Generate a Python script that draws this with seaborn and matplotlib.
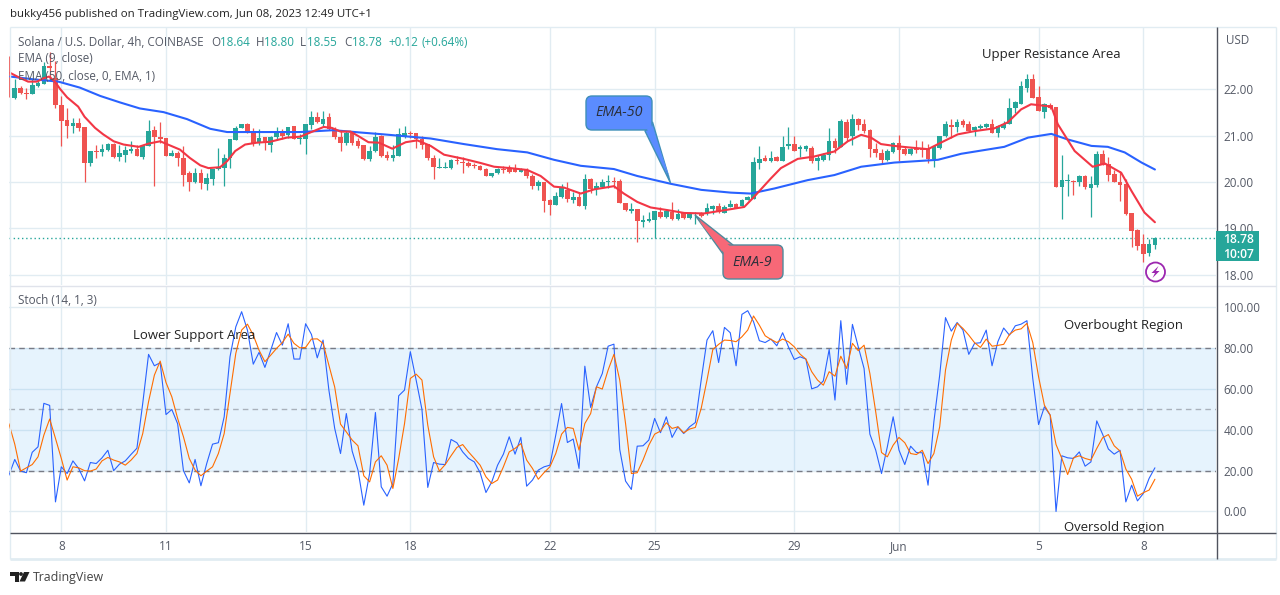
import matplotlib
matplotlib.use('Agg')
import matplotlib.pyplot as plt
import numpy as np
import pandas as pd
import seaborn as sns
from matplotlib.patches import FancyBboxPatch, Polygon, Circle, Rectangle

# candles, one every 4h, index 0 = May 8 00:00
first_candle = -9
opens = [22.25,21.81,22.03,21.93,21.90,22.08,22.12,22.50,22.24,21.66,
         21.33,21.21,21.28,21.19,20.40,20.67,20.64,20.69,20.82,20.54,
         20.59,20.66,20.72,20.55,20.77,21.12,20.98,20.96,20.56,20.62,
         20.51,20.19,20.00,20.19,19.96,20.07,20.28,20.30,20.51,20.90,
         21.16,21.25,21.10,20.85,20.98,20.81,20.98,21.11,21.01,21.21,
         20.93,20.93,21.23,21.40,21.25,21.40,21.14,20.98,20.85,21.07,
         20.88,20.80,20.49,20.66,20.99,20.58,20.51,20.56,20.99,21.07,
         21.05,20.94,20.83,20.51,20.31,20.31,20.30,20.48,20.43,20.41,
         20.36,20.35,20.28,20.13,20.19,20.29,20.30,20.30,20.22,20.26,
         20.13,19.91,19.99,19.61,19.50,19.68,19.83,19.62,19.68,19.49,
         20.07,19.85,19.90,19.99,20.03,20.02,19.54,19.37,19.41,19.13,
         19.16,19.17,19.35,19.25,19.36,19.20,19.32,19.22,19.30,19.33,
         19.33,19.41,19.48,19.33,19.45,19.52,19.48,19.61,19.63,20.42,
         20.51,20.46,20.54,20.46,20.77,20.83,20.72,20.72,20.73,20.46,
         20.48,20.59,20.88,20.75,21.30,20.99,21.37,21.25,21.12,20.71,
         20.62,20.47,20.65,20.84,20.71,20.60,20.74,20.72,20.71,20.49,
         20.74,21.00,21.24,21.18,21.31,21.26,21.12,21.16,21.18,21.26,
         21.05,21.16,21.25,21.61,21.68,22.03,22.22,21.83,21.52,21.66,
         21.62,19.89,20.02,20.03,20.00,20.13,19.86,19.93,20.60,20.38,
         20.17,20.01,19.95,19.34,18.97,18.65,18.47,18.64]
highs = [22.73,22.22,22.08,22.04,22.22,22.20,22.59,22.80,22.62,21.86,
         21.61,21.39,21.39,21.19,20.67,20.81,20.83,20.84,20.84,20.81,
         20.78,20.88,20.81,20.81,21.33,21.21,21.30,20.96,20.70,20.67,
         20.78,20.23,20.31,20.29,20.20,20.28,20.74,20.60,20.93,21.21,
         21.26,21.28,21.16,21.14,20.98,20.99,21.19,21.14,21.18,21.21,
         21.03,21.25,21.54,21.52,21.54,21.49,21.18,21.10,21.10,21.09,
         20.96,20.81,20.78,21.09,21.01,20.67,20.81,21.17,21.21,21.10,
         21.07,20.99,20.83,20.59,20.51,20.44,20.50,20.57,20.55,20.46,
         20.41,20.37,20.30,20.20,20.30,20.35,20.37,20.39,20.31,20.30,
         20.17,20.04,19.99,19.64,19.79,19.95,20.01,19.79,19.79,20.17,
         20.09,20.01,20.07,20.15,20.10,20.06,19.54,19.54,19.41,19.28,
         19.36,19.37,19.46,19.41,19.56,19.41,19.36,19.35,19.36,19.36,
         19.54,19.50,19.54,19.50,19.62,19.55,19.64,19.70,20.55,20.78,
         20.59,20.67,20.56,20.99,21.19,20.99,20.80,20.80,20.77,20.59,
         20.62,21.17,20.96,21.36,21.36,21.48,21.38,21.37,21.14,20.85,
         20.71,20.71,20.86,21.01,20.78,20.74,20.91,20.89,20.82,20.78,
         21.00,21.32,21.36,21.37,21.37,21.32,21.21,21.25,21.28,21.37,
         21.23,21.32,21.81,21.75,22.19,22.33,22.33,22.08,21.70,21.70,
         21.62,20.58,20.17,20.04,20.15,20.15,20.13,20.66,20.69,20.53,
         20.27,20.24,20.06,19.34,18.99,18.88,18.77,18.80]
lows = [21.83,21.79,21.90,21.79,21.90,22.05,22.12,22.22,21.61,20.78,
        20.96,21.05,21.10,19.99,20.34,20.52,20.56,20.67,20.52,20.45,
        20.44,20.62,20.56,20.50,20.77,19.91,20.85,20.56,20.56,20.34,
        19.92,19.80,19.98,19.85,19.82,19.94,20.26,19.92,20.31,20.90,
        21.16,21.07,20.78,20.81,20.70,20.65,20.92,20.92,20.96,20.92,
        20.83,20.60,21.14,21.28,21.21,21.12,20.94,20.67,20.81,20.81,
        20.74,20.48,20.45,20.65,20.54,20.47,20.45,20.56,20.96,20.96,
        20.74,20.72,20.48,20.07,20.30,20.30,20.29,20.39,20.20,20.32,
        20.30,20.25,20.12,20.10,20.17,20.20,20.20,20.22,20.22,20.08,
        19.84,19.83,19.36,19.28,19.50,19.66,19.57,19.55,19.49,19.41,
        19.77,19.72,19.86,19.88,19.88,19.54,19.38,19.33,18.70,19.03,
        19.14,18.78,19.23,19.23,19.17,19.17,19.20,19.19,19.09,19.25,
        19.28,19.30,19.33,19.33,19.45,19.43,19.48,19.60,19.63,20.28,
        20.46,20.44,20.46,20.46,20.71,20.67,20.55,20.66,20.42,20.26,
        20.45,20.48,20.62,20.75,20.88,20.80,21.13,21.05,20.53,20.53,
        20.38,20.45,20.63,20.45,20.58,20.58,20.63,20.53,20.42,20.32,
        20.72,20.98,20.96,21.08,21.18,21.10,21.00,21.14,21.16,21.05,
        20.97,21.14,21.25,21.50,21.68,21.94,21.81,21.54,21.39,21.57,
        19.89,19.21,19.70,19.72,19.91,19.84,19.24,19.90,20.37,20.03,
        20.00,19.59,19.28,18.59,18.53,18.27,18.40,18.55]
closes = [22.15,22.04,21.92,21.91,22.09,22.15,22.50,22.46,21.66,21.31,
          21.22,21.28,21.16,20.40,20.67,20.65,20.72,20.83,20.54,20.63,
          20.69,20.72,20.56,20.78,21.10,20.98,20.92,20.56,20.62,20.51,
          20.16,20.00,20.19,19.97,20.09,20.28,20.30,20.51,20.93,21.16,
          21.25,21.07,20.85,20.96,20.85,20.98,21.10,20.99,21.18,20.92,
          20.94,21.25,21.40,21.30,21.37,21.14,20.97,20.85,21.07,20.85,
          20.78,20.49,20.67,20.98,20.56,20.51,20.59,21.03,21.07,21.03,
          20.93,20.81,20.52,20.32,20.32,20.33,20.48,20.46,20.40,20.35,
          20.34,20.26,20.13,20.19,20.28,20.27,20.22,20.22,20.29,20.12,
          19.91,19.99,19.59,19.50,19.70,19.88,19.64,19.68,19.49,20.07,
          19.85,19.91,19.99,20.03,20.00,19.54,19.39,19.41,19.16,19.17,
          19.21,19.37,19.25,19.38,19.20,19.30,19.22,19.30,19.33,19.26,
          19.43,19.48,19.35,19.46,19.52,19.43,19.62,19.68,20.43,20.49,
          20.46,20.51,20.46,20.75,20.83,20.67,20.75,20.77,20.46,20.51,
          20.59,20.88,20.73,21.31,20.95,21.37,21.24,21.10,20.71,20.62,
          20.47,20.66,20.84,20.69,20.60,20.72,20.69,20.69,20.49,20.78,
          21.00,21.26,21.19,21.29,21.24,21.10,21.19,21.21,21.26,21.07,
          21.20,21.26,21.61,21.73,22.08,22.22,21.81,21.54,21.68,21.59,
          19.89,20.04,20.03,20.00,20.12,19.89,19.95,20.60,20.37,20.15,
          20.00,19.93,19.30,18.95,18.61,18.45,18.67,18.78]

# moving averages, read at the bends of each line
ema9_pos = [-8.8,-7.1,-5.7,-4.2,-3.1,-2.1,-1.1,-0.2,1,2.9,4,5.8,7.2,9,10.7,13.3,15,17,18.7,20.4,
            22.1,23.9,25.3,27.3,28.5,29.9,31.6,33.6,35.9,38.8,41.1,42.8,45.1,46.5,48,49.7,51.1,52.8,54.6,56.9,
            59.2,61.2,63.5,65.8,69.2,72.1,74.4,77.2,80.1,82.4,84.7,86.4,89.3,91.6,95,96.7,99,101.3,104.8,107.1,
            110.5,114,117.4,119.1,122,123.7,126.6,129.4,132.9,135.2,137.5,139.2,140.9,143.2,145.5,149,151.2,154.1,157,160.4,
            162.7,165,166.7,170.2,171.3,174.2,177.3,179.4,182.2,184,186.2,188]
ema9 = [22.36,22.25,22.17,22.17,22.24,22.28,22.17,22.01,21.83,21.63,21.41,21.17,21.03,20.88,20.81,20.76,20.83,20.88,20.79,20.70,
        20.52,20.36,20.30,20.32,20.45,20.67,20.81,20.85,20.87,20.96,20.98,21.07,21.19,21.17,21.09,21.09,20.99,20.86,20.85,20.72,
        20.86,20.90,20.78,20.59,20.50,20.41,20.33,20.30,20.26,20.13,19.90,19.88,19.75,19.84,19.91,19.75,19.57,19.45,19.38,19.33,
        19.32,19.39,19.46,19.68,20.08,20.30,20.50,20.55,20.66,20.88,21.02,20.96,20.82,20.78,20.75,20.71,20.85,21.03,21.10,21.16,
        21.29,21.57,21.68,21.63,21.25,20.67,20.33,20.40,20.20,19.80,19.34,19.13]
ema50_pos = [-8.8,-4.8,-0.5,3.2,6.7,10.1,13.5,17.6,21.6,25.6,28.5,35.3,41.1,46.8,51.4,55.4,63.5,
             69.2,74.9,80.1,84.7,89.3,95,99,104.8,110,115.1,118.5,122.6,128.3,132.9,137.5,
             143.2,150.7,154.7,162.1,166.2,170.2,173,177.1,179.9,182.8,185.7,188]
ema50 = [22.28,22.22,22.17,22.04,21.86,21.72,21.59,21.51,21.36,21.15,21.08,21.08,21.08,21.12,21.07,21.03,20.94,
         20.82,20.71,20.64,20.48,20.35,20.28,20.13,19.96,19.83,19.77,19.75,19.86,20.04,20.15,20.33,
         20.42,20.48,20.61,20.76,20.96,21.04,20.92,20.78,20.76,20.64,20.42,20.27]

# stochastic, one value per candle
stoch_k = [17.8,25.5,19.8,19,29,31.7,53,52,4.7,21.9,
           18.6,24.8,21,15,24,23.5,26.3,30,20,23.2,
           24.8,28,31,53,77,71.4,72.9,47.5,50,43,
           20,14,25.5,12.6,23.5,33,33.7,46.4,75.8,90.5,
           97.9,88.9,72.2,78,70.6,79,87.7,81.5,92,74.7,
           74.7,92,86.8,75.3,84,59.5,40.7,28.4,48,29.6,
           20.3,3.1,18.6,48.5,12.1,7.5,13.7,56.7,59.5,78.3,
           64.4,50,11.8,24,23.2,23,35.3,33.7,29.2,26,
           24.3,19,9.3,14.5,22.7,28.1,36.6,28.1,36.3,12.4,
           15.4,20.3,21.9,22.7,37.4,52.9,33.8,35.5,21.1,71.2,
           51,61.1,67.6,81,82,30.4,14.9,10.8,32,32.2,
           35,45.6,38.6,46.4,36.3,41.5,38.2,41.5,43.6,64.4,
           84,88.6,73,90.2,87.6,71.4,96.6,98.4,93,83.7,
           82.8,84.5,81.2,87.6,80.7,74.5,75.8,74.7,60.1,61.1,
           64,79.4,54.6,93.5,62.3,91.7,80.7,70.1,37.9,30.1,
           18.6,31.7,46.4,30.1,23,32,28.9,28.8,12.9,44,
           66.8,95,88.4,92.6,88.9,77,82.4,82.7,88.9,71.4,
           83.2,89.9,86.4,91,91.8,93.5,65.2,42.6,51.3,47.2,
           0,27.3,26.3,26,29.2,22.2,24.3,44.4,37.9,30.6,
           28.1,30,4.7,12.9,5.2,8.8,16.2,21.4]
stoch_d = [43,33,19.8,21.4,23,26.8,37.4,45.3,35.8,26,
           15.4,21.9,21.4,20,19.8,20.8,24.8,26.5,25.2,24.3,
           22.7,25.2,28.4,38.2,53.8,66.8,73.7,63.2,56.2,45.6,
           36.6,26,20.3,17.5,19.8,21.9,28.4,38.2,57.8,77.5,
           88.9,91.8,86.4,79,73.4,76.6,79.9,82.8,86.9,82.4,
           80.2,80.4,84.5,84.6,82.4,71.7,61,42.8,39,35,
           32.2,17.5,14.5,24.3,27.3,22.7,11.3,26,43,65.2,
           67.3,64.4,42.3,26.8,19.8,23,27.3,31.4,32.8,29.2,
           26,22.7,17,13.7,15.4,21.9,29.2,30.9,33.3,25.2,
           21.1,15.8,19.1,21.9,28.4,37.9,41.2,40.7,30.1,43.1,
           48,61.1,60,69.3,77,64.4,43.1,18.6,19,25.2,
           32.5,37.9,39.4,43.5,40.7,41.5,38.6,40.4,41.2,50.5,
           64.4,79.4,81.9,84,83.8,83.2,85.6,88.9,95.8,91.3,
           86.1,84.3,82.8,84.5,83.2,80.7,77.1,74.7,68.5,64.4,
           61.9,68.5,66.3,76.1,70.1,82.4,78.8,81.5,67.6,48.9,
           28.9,26.8,32.5,36.3,33.7,28.4,27.9,30,23.5,28.4,
           41.5,69.3,84,92.2,89.7,86.4,82.7,80.4,84.5,81,
           81.4,81.9,86.8,88.9,89.5,92.2,82.8,66,52.1,47.2,
           32.8,26,18.1,26.3,27.3,26,25.2,30.9,36.1,37.7,
           32.2,29.6,20.8,15.8,7.5,9.2,10.5,15.8]

x_ticks = [0, 18, 42, 60, 84, 102, 126, 144, 168, 186]
x_labels = ['8', '11', '15', '18', '22', '25', '29', 'Jun', '5', '8']
price_ticks = [18, 19, 20, 21, 22]
stoch_ticks = [0, 20, 40, 60, 80, 100]
last_price = 18.78

GREEN = '#26a69a'
RED = '#ef5350'
GRID = '#e1ecf2'
TXT = '#555a66'
DARK = '#222222'

sns.set_theme(style='white')
plt.rcParams['font.family'] = ['Open Sans', 'DejaVu Sans']

W, H = 1280, 595
fig = plt.figure(figsize=(W / 100, H / 100), dpi=100, facecolor='white')


def px_axes(left, top, right, bottom):
    return fig.add_axes([left / W, 1 - bottom / H, (right - left) / W, (bottom - top) / H])


ax = px_axes(9, 27, 1216, 285)
ax2 = px_axes(9, 286, 1216, 532)

df = pd.DataFrame({'o': opens, 'h': highs, 'l': lows, 'c': closes, 'k': stoch_k, 'd': stoch_d})
df['i'] = np.arange(len(df)) + first_candle
df['col'] = np.where(df.c >= df.o, GREEN, RED)

xlim = (-8.99, 198.5)
for a in (ax, ax2):
    a.set_xlim(xlim)
    a.set_xticks(x_ticks)
    a.grid(True, color=GRID, lw=1)
    a.set_axisbelow(True)
    a.yaxis.tick_right()
    a.tick_params(length=0, labelsize=8.5, labelcolor=TXT, pad=5.5)
    for s in a.spines.values():
        s.set_visible(False)
ax.set_ylim(17.773, 23.351)
ax.set_yticks(price_ticks)
ax.set_yticklabels([f'{v:.2f}' for v in price_ticks])
ax.tick_params(labelbottom=False)
ax2.set_ylim(-10.05, 110.5)
ax2.set_yticks(stoch_ticks)
ax2.set_yticklabels([f'{v:.2f}' for v in stoch_ticks])
ax2.set_xticklabels(x_labels)
ax2.tick_params(axis='x', pad=6)

# candles
ax.axhline(last_price, color=GREEN, lw=1, ls=(0, (1, 2)), zorder=1)
ax.vlines(df.i, df.l, df.h, colors=df.col, lw=0.9, zorder=2)
ax.bar(df.i, (df.c - df.o).abs().clip(lower=0.02), bottom=df[['o', 'c']].min(axis=1),
       width=0.8, color=df.col, lw=0, zorder=3)
sns.lineplot(x=ema50_pos, y=ema50, ax=ax, color='#2962ff', lw=1.5, estimator=None, sort=False, legend=False, zorder=4)
sns.lineplot(x=ema9_pos, y=ema9, ax=ax, color='#f23645', lw=1.5, estimator=None, sort=False, legend=False, zorder=5)

# stochastic pane
ax2.axhspan(20, 80, color='#2196f3', alpha=0.11, lw=0, zorder=1)
ax2.axhline(80, color='#787b86', lw=1, ls=(0, (4, 3)), zorder=2)
ax2.axhline(50, color='#787b86', lw=1, ls=(0, (4, 3)), alpha=0.55, zorder=2)
ax2.axhline(20, color='#787b86', lw=1, ls=(0, (4, 3)), zorder=2)
sns.lineplot(data=df, x='i', y='k', ax=ax2, color='#2962ff', lw=0.8, estimator=None, legend=False, zorder=3)
sns.lineplot(data=df, x='i', y='d', ax=ax2, color='#ff6d00', lw=0.8, estimator=None, legend=False, zorder=4)
for a in (ax, ax2):
    a.set_xlabel('')
    a.set_ylabel('')

# overlay in pixel units for frame, notes and callouts
ov = fig.add_axes([0, 0, 1, 1], zorder=10)
ov.set_xlim(0, W)
ov.set_ylim(H, 0)
ov.axis('off')
ov.patch.set_alpha(0)


def line(xs, ys, color, lw=1.0, z=6):
    ov.plot(xs, ys, color=color, lw=lw, solid_capstyle='butt', zorder=z)


def label(x, y, s, color=TXT, size=8.4, **kw):
    ov.text(x, y, s, color=color, fontsize=size, va='center', ha=kw.pop('ha', 'left'), **kw)


line([10, 1276], [27, 27], GRID)
line([10, 10], [27, 559], GRID)
line([1276, 1276], [27, 559], GRID)
line([10, 1276], [285.5, 285.5], '#e0e3eb')
line([10, 1276], [559, 559], GRID, lw=2)

label(10, 15, 'bukky456 published on TradingView.com, Jun 08, 2023 12:49 UTC+1', DARK, 8.28)
label(18, 42, 'Solana / U.S. Dollar, 4h, COINBASE')
for x, s, c in [(211, 'O', TXT), (220, '18.64', GREEN), (256, 'H', TXT), (264, '18.80', GREEN),
                (300, 'L', TXT), (307, '18.55', GREEN), (344, 'C', TXT), (352, '18.78', GREEN),
                (388, '+0.12', GREEN), (422, '(+0.64%)', GREEN)]:
    label(x, 42, s, c)
label(18, 59, 'EMA (9, close)')
label(18, 76, 'EMA (50, close, 0, EMA, 1)')
label(18, 300.5, 'Stoch (14, 1, 3)')
label(1226, 40, 'USD')

label(982, 54.5, 'Upper Resistance Area', DARK, 9.45)
label(133, 335.5, 'Lower Support Area', DARK, 9.45)
label(1064, 325.5, 'Overbought Region', DARK, 9.45)
label(1064, 527.5, 'Oversold Region', DARK, 9.45)

# time axis strip covers the clipped note
ov.add_patch(Rectangle((10, 532.5), 1206, 8, fc='white', ec='none', zorder=5))
line([10, 1276], [532.5, 532.5], '#50535e', 1.0)
line([1216.5, 1216.5], [27, 559], '#50535e', 1.0)

# callouts
ov.add_patch(FancyBboxPatch((590, 100), 58, 26, boxstyle='round,pad=4,rounding_size=6',
                            fc='#5b8cff', ec='#3f8fb8', lw=1, zorder=7))
ov.add_patch(Polygon([(645, 131), (670.5, 183), (652.5, 122)], fc='#5b8cff', ec='#3f8fb8', lw=1, zorder=6.5))
ov.add_patch(Polygon([(647, 129), (670, 178), (651, 124)], fc='#5b8cff', ec='none', zorder=7.5))
label(619.5, 113, 'EMA-50', '#2b2f3a', 10.3, ha='center', style='italic', zorder=9)
ov.add_patch(FancyBboxPatch((727, 249), 52, 26, boxstyle='round,pad=4,rounding_size=6',
                            fc='#f76877', ec='#4f8a9c', lw=1, zorder=7))
ov.add_patch(Polygon([(695, 215), (723, 254), (733, 245)], fc='#f76877', ec='#4f8a9c', lw=1, zorder=6.5))
ov.add_patch(Polygon([(699, 221), (725, 254), (731, 247)], fc='#f76877', ec='none', zorder=7.5))
label(752.5, 262, 'EMA-9', '#2b2f3a', 10.3, ha='center', style='italic', zorder=9)

# last price tag
ov.add_patch(Rectangle((1216, 231), 43, 30, fc=GREEN, ec='none', zorder=8))
label(1239, 239.5, '18.78', 'white', 8.7, ha='center', zorder=9, fontweight='semibold')
label(1239, 254, '10:07', 'white', 8.7, ha='center', zorder=9, fontweight='semibold')

# alert icon
ov.add_patch(Circle((1155.5, 272), 9.5, fc='white', ec='#9c27b0', lw=1.3, zorder=8))
ov.add_patch(Polygon([(1158.5, 266), (1151.5, 273), (1155, 273), (1152.5, 278), (1159.5, 271), (1156, 271)],
                     fc='#9c27b0', ec='none', zorder=9))

# TradingView mark
ov.add_patch(Polygon([(10, 572), (18.5, 572), (18.5, 581.5), (14.5, 581.5), (14.5, 575.5), (10, 575.5)],
                     fc='#222222', ec='none'))
ov.add_patch(Circle((21, 574), 1.9, fc='#222222', ec='none'))
ov.add_patch(Polygon([(24, 572), (29.5, 572), (25, 581.5), (19.5, 581.5)], fc='#222222', ec='none'))
label(33, 577, 'TradingView', '#444444', 8.95)

fig.savefig('out.png', dpi=100)
